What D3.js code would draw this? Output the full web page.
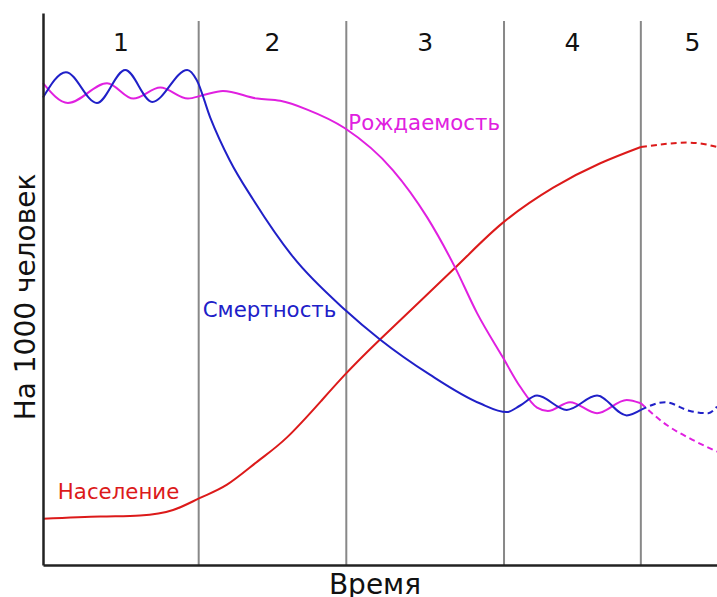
<!DOCTYPE html>
<html>
<head>
<meta charset="utf-8">
<script src="https://cdn.jsdelivr.net/npm/d3@7"></script>
<style>
  body { margin: 0; background: #fff; }
  text { font-family: "DejaVu Sans", sans-serif; }
</style>
</head>
<body>
<div id="chart-area"></div>
<script>
const WIDTH = 717
const HEIGHT = 597

// stage boundaries (time units), the last edge lies past the visible end
const stageEdges = [0, 23.1, 45, 68.4, 88.7, 104]
const stageNames = ["1", "2", "3", "4", "5"]

// birth rate
const birthT = [0, 3.7, 9.5, 13.4, 17.4, 21.5, 23.7, 26.7, 31.8, 35.2, 39.2, 44.8, 51.9, 57.0, 61.1, 64.4, 68.2, 70.8, 73.3, 74.9, 78.2, 82.2, 86.6, 88.7]
const birthV = [43.8, 42.0, 43.8, 42.4, 43.4, 42.4, 42.7, 43.1, 42.4, 42.2, 41.4, 39.7, 35.9, 31.6, 27.1, 22.9, 18.9, 16.2, 14.3, 14.0, 14.8, 13.8, 15.0, 14.7]
const birthFutT = [88.7, 92.6, 96.3, 100]
const birthFutV = [14.7, 12.7, 11.4, 10.3]

// death rate
const deathT = [0, 3.4, 8.0, 12.2, 16.2, 21.4, 22.8, 24.8, 27.7, 31.2, 37.1, 44.8, 50.0, 57.4, 64.8, 68.8, 70.8, 73.3, 77.7, 82.2, 86.6, 88.7]
const deathV = [42.5, 44.8, 42.0, 45.0, 42.1, 45.0, 44.1, 40.7, 36.8, 33.2, 28.0, 23.2, 20.5, 17.3, 14.7, 13.9, 14.5, 15.4, 14.1, 15.4, 13.6, 14.1]
const deathFutT = [88.7, 92.3, 96.0, 98.7, 100]
const deathFutV = [14.1, 14.8, 14.0, 13.8, 14.4]

// population
const popT = [0, 8.5, 14.4, 19.3, 23.3, 27.3, 31.8, 36.2, 41.4, 44.8, 50.0, 61.1, 68.2, 75.7, 82.6, 88.7]
const popV = [4.2, 4.4, 4.5, 5.0, 6.1, 7.3, 9.4, 11.6, 15.0, 17.3, 20.5, 27.0, 31.1, 34.3, 36.5, 38.0]
const popFutT = [88.7, 95.5, 100]
const popFutV = [38.0, 38.4, 38.0]

const BLUE = "#2020c8"
const MAGENTA = "#e020e0"
const RED = "#dc1a1a"

const svg = d3.select("#chart-area").append("svg")
    .attr("width", WIDTH)
    .attr("height", HEIGHT)

const x = d3.scaleLinear().domain([0, 100]).range([43, 717])
const y = d3.scaleLinear().domain([0, 50.18]).range([565, 13])

// stage dividers
svg.selectAll(".divider")
    .data(stageEdges.slice(1, 5))
    .enter().append("line")
    .attr("class", "divider")
    .attr("x1", d => x(d)).attr("x2", d => x(d))
    .attr("y1", 21).attr("y2", y(0))
    .attr("stroke", "#888")
    .attr("stroke-width", 2)

// stage numbers
svg.selectAll(".stage")
    .data(stageNames)
    .enter().append("text")
    .attr("class", "stage")
    .attr("x", (d, i) => x((stageEdges[i] + stageEdges[i + 1]) / 2))
    .attr("y", 51)
    .attr("text-anchor", "middle")
    .attr("font-size", "25px")
    .attr("fill", "#111")
    .text(d => d)

function drawSeries(ts, vs, color, dashed, curve) {
    const line = d3.line()
        .x(d => x(d[0]))
        .y(d => y(d[1]))
        .curve(curve || d3.curveMonotoneX)
    svg.append("path")
        .datum(d3.zip(ts, vs))
        .attr("d", line)
        .attr("fill", "none")
        .attr("stroke", color)
        .attr("stroke-width", 2)
        .attr("stroke-dasharray", dashed ? "6,4" : null)
}

drawSeries(popT, popV, RED, false, d3.curveNatural)
drawSeries(popFutT, popFutV, RED, true, d3.curveNatural)
drawSeries(birthT, birthV, MAGENTA, false)
drawSeries(birthFutT, birthFutV, MAGENTA, true)
drawSeries(deathT, deathV, BLUE, false)
drawSeries(deathFutT, deathFutV, BLUE, true)

// axes (no ticks, just the frame lines)
svg.append("g")
    .attr("transform", `translate(0, ${y(0)})`)
    .call(d3.axisBottom(x).ticks(0).tickSizeOuter(0))
    .select(".domain").attr("stroke", "#222").attr("stroke-width", 2.5)

svg.append("g")
    .attr("transform", `translate(${x(0)}, 0)`)
    .call(d3.axisLeft(y).ticks(0).tickSizeOuter(0))
    .select(".domain").attr("stroke", "#222").attr("stroke-width", 2.5)

// curve labels
svg.append("text")
    .attr("x", x(45.3)).attr("y", y(39.5))
    .attr("font-size", "21.3px").attr("fill", MAGENTA)
    .text("Рождаемость")

svg.append("text")
    .attr("x", x(23.7)).attr("y", y(22.5))
    .attr("font-size", "21.3px").attr("fill", BLUE)
    .text("Смертность")

svg.append("text")
    .attr("x", x(2.2)).attr("y", y(6.0))
    .attr("font-size", "21.3px").attr("fill", RED)
    .text("Население")

// axis titles
svg.append("text")
    .attr("x", 375).attr("y", 594)
    .attr("text-anchor", "middle")
    .attr("font-size", "28px")
    .attr("fill", "#111")
    .text("Время")

svg.append("text")
    .attr("transform", "translate(35, 297) rotate(-90)")
    .attr("text-anchor", "middle")
    .attr("font-size", "28px")
    .attr("fill", "#111")
    .text("На 1000 человек")
</script>
</body>
</html>
